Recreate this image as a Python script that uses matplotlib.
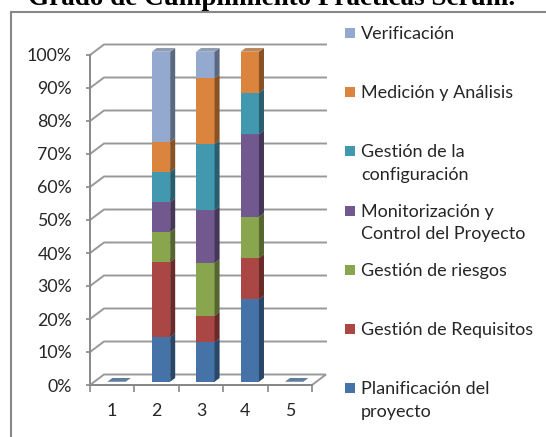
import matplotlib
matplotlib.use("Agg")
import matplotlib.pyplot as plt
from matplotlib.patches import Polygon
from matplotlib.lines import Line2D
from matplotlib.colors import to_rgb
import numpy as np

categories = ["1", "2", "3", "4", "5"]
series = ["Planificación del\nproyecto", "Gestión de Requisitos", "Gestión de riesgos",
          "Monitorización y\nControl del Proyecto", "Gestión de la\nconfiguración",
          "Medición y Análisis", "Verificación"]
planificacion = [0, 13.6, 12, 25, 0]
requisitos = [0, 22.7, 8, 12.5, 0]
riesgos = [0, 9.1, 16, 12.5, 0]
monitorizacion = [0, 9.1, 16, 25, 0]
configuracion = [0, 9.1, 20, 12.5, 0]
medicion = [0, 9.1, 20, 12.5, 0]
verificacion = [0, 27.3, 8, 0, 0]
values = [planificacion, requisitos, riesgos, monitorizacion, configuracion, medicion, verificacion]
colors = ["#4572A7", "#AA4643", "#89A54E", "#71588F", "#4198AF", "#DB843D", "#93A9CF"]
title = "Grado de Cumplimiento Prácticas Scrum."

plt.rcParams['font.family'] = ['Lato', 'DejaVu Sans']
W, H = 546, 437
fig = plt.figure(figsize=(W / 100, H / 100), dpi=100)
txt_c = "#262626"

# frame of the original chart object (goes off the right and bottom)
fig.add_artist(Line2D([11 / W, 1], [1 - 12 / H, 1 - 12 / H], color="#888888", lw=1.5))
fig.add_artist(Line2D([11 / W, 11 / W], [1 - 12 / H, 0], color="#888888", lw=1.5))
fig.text(272 / W, 1 - 5 / H, title, family="Liberation Serif", weight="bold",
         fontsize=19.5, ha="center", va="baseline")

# plot area: front axis x 90..312 px, y 0% at 385 px, 100% at 55 px
ax = fig.add_axes([90 / W, (H - 385) / H, 222 / W, 330 / H])
ax.set_xlim(0.5, 5.5)
ax.set_ylim(0, 100)
DX = 14 / 44.4     # depth offset in category units
DY = 10.5 / 3.3    # depth offset in percent
d0, d1 = 0.31, 0.67
bw = 0.415
grid_c = "#999999"

for v in range(10, 101, 10):
    ax.plot([0.5, 0.5 + DX, 5.5 + DX], [v, v + DY, v + DY], color=grid_c, lw=1.4,
            clip_on=False, zorder=1)
ax.add_patch(Polygon([(0.5, 0), (5.5, 0), (5.5 + DX, DY), (0.5 + DX, DY)], closed=True,
                     facecolor="white", edgecolor=grid_c, lw=1.4, clip_on=False, zorder=1))


def shade(c, f):
    return tuple(np.clip(np.array(to_rgb(c)) * f, 0, 1))


def top_color(c):
    rgb = np.array(to_rgb(c))
    return tuple(np.clip(0.6 * rgb + 0.4 * 0.55, 0, 1))


x = np.arange(1, len(categories) + 1)
for j in range(len(categories)):
    xc = x[j] + d0 * DX
    xl, xr = xc - bw / 2, xc + bw / 2
    bottom = 0.0
    total = sum(vals[j] for vals in values)
    for s, vals in enumerate(values):
        v = vals[j]
        if v <= 0:
            continue
        b, t = bottom, bottom + v
        ax.bar(xc, v, width=bw, bottom=b + d0 * DY, color=colors[s], zorder=3, clip_on=False)
        ax.add_patch(Polygon([(xr, b + d0 * DY), (xr + (d1 - d0) * DX, b + d1 * DY),
                              (xr + (d1 - d0) * DX, t + d1 * DY), (xr, t + d0 * DY)],
                             closed=True, facecolor=shade(colors[s], 0.62), lw=0,
                             clip_on=False, zorder=3))
        ax.add_patch(Polygon([(xl, t + d0 * DY), (xr, t + d0 * DY),
                              (xr + (d1 - d0) * DX, t + d1 * DY), (xl + (d1 - d0) * DX, t + d1 * DY)],
                             closed=True, facecolor=top_color(colors[s]), lw=0,
                             clip_on=False, zorder=3))
        bottom = t
    if total == 0:
        ax.add_patch(Polygon([(xl, d0 * DY), (xr, d0 * DY),
                              (xr + (d1 - d0) * DX, d1 * DY), (xl + (d1 - d0) * DX, d1 * DY)],
                             closed=True, facecolor=top_color(colors[0]), lw=0,
                             clip_on=False, zorder=3))

for side in ["top", "right"]:
    ax.spines[side].set_visible(False)
for side in ["left", "bottom"]:
    ax.spines[side].set_color("#888888")
    ax.spines[side].set_linewidth(1.4)
ax.set_facecolor("none")
ax.set_yticks(range(0, 101, 10))
ax.set_yticklabels([f"{v}%" for v in range(0, 101, 10)])
ax.set_xticks(x)
ax.set_xticklabels(categories)
ax.set_xticks(np.arange(0.5, 5.6, 1), minor=True)
ax.tick_params(axis="y", length=3, width=1.2, color="#888888", pad=10, labelsize=12.8,
               labelcolor=txt_c)
ax.tick_params(axis="x", which="major", length=0, pad=13, labelsize=12.8, labelcolor=txt_c)
ax.tick_params(axis="x", which="minor", length=5, width=1.2, color="#888888")

# legend, entries spread evenly like the original
leg_top = 39
step = 59.2
for k, s in enumerate(reversed(range(len(series)))):
    base = leg_top + k * step
    fig.patches.append(plt.Rectangle((345 / W, 1 - (base - 1) / H), 10 / W, 10 / H,
                                     transform=fig.transFigure, facecolor=colors[s],
                                     edgecolor="none"))
    for li, line in enumerate(series[s].split("\n")):
        fig.text(361 / W, 1 - (base + li * 22.5) / H, line, fontsize=13, color=txt_c,
                 ha="left", va="baseline")

fig.savefig("out.png", dpi=100)
